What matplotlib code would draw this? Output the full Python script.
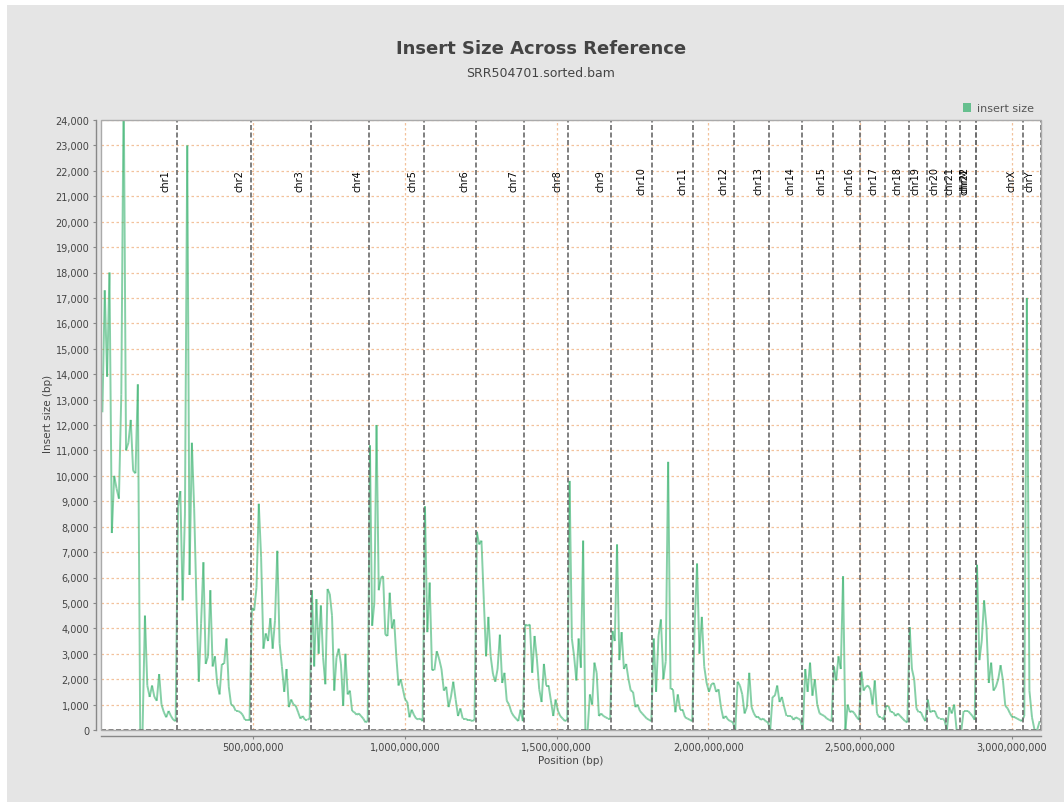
import numpy as np
import matplotlib.pyplot as plt
import matplotlib.transforms as mtransforms
from matplotlib.collections import LineCollection
from matplotlib.patches import Rectangle, Patch
from matplotlib.ticker import FuncFormatter, MultipleLocator

# reference sequences (hg19) and their lengths in bp
chrom_names = ['chr1', 'chr2', 'chr3', 'chr4', 'chr5', 'chr6', 'chr7', 'chr8', 'chr9',
               'chr10', 'chr11', 'chr12', 'chr13', 'chr14', 'chr15', 'chr16', 'chr17',
               'chr18', 'chr19', 'chr20', 'chr21', 'chr22', 'chrM', 'chrX', 'chrY']
chrom_lengths = [249250621, 243199373, 198022430, 191154276, 180915260, 171115067,
                 159138663, 146364022, 141213431, 135534747, 135006516, 133851895,
                 115169878, 107349540, 102531392, 90354753, 81195210, 78077248,
                 59128983, 63025520, 48129895, 51304566, 16571, 155270560, 59373566]

# mean insert size per window (bp)
chr1_sizes = [12500, 17300, 13900, 18000, 7750, 10000, 9500, 9100, 13200, 25500, 11000,
              11300, 12200, 10200, 10100, 13600, 0, 0, 4500, 1750, 1300, 1750, 1300,
              1150, 2200, 1000, 700, 500, 750, 550, 400, 350]
chr2_sizes = [8800, 9400, 5100, 8500, 23000, 6100, 11300, 8700, 5000, 1900, 4200, 6600,
              2600, 2900, 5500, 2500, 2900, 1800, 1400, 2600, 2600, 3600, 1700, 1000,
              950, 750, 750, 700, 600, 400, 400, 400]
chr3_sizes = [4800, 4700, 5600, 8900, 6800, 3200, 3800, 3500, 4400, 3200, 4300, 7050,
              3400, 2500, 1500, 2400, 900, 1200, 1000, 950, 700, 450, 550, 400, 400, 450]
chr4_sizes = [5500, 2500, 5150, 3000, 4900, 2850, 1800, 5550, 5350, 4500, 1550, 2850,
              3200, 2600, 950, 3000, 1400, 1550, 750, 700, 600, 650, 550, 450, 300, 350]
chr5_sizes = [11200, 4100, 5000, 12000, 5500, 6000, 6050, 3750, 3700, 5400, 4000, 4350,
              2900, 1750, 2000, 1600, 1200, 1100, 500, 800, 600, 450, 420, 450, 350]
chr6_sizes = [8800, 3850, 5800, 2350, 2350, 3100, 2800, 2400, 1550, 1700, 900, 1300,
              1900, 1200, 550, 850, 450, 450, 400, 400, 350, 400]
chr7_sizes = [7800, 7300, 7450, 5150, 2900, 4450, 2900, 2200, 1900, 2400, 3750, 1850,
              2250, 1150, 1000, 700, 550, 450, 350, 800, 350]
chr8_sizes = [4150, 4100, 4150, 2250, 3700, 2800, 1600, 1100, 2600, 1750, 1750, 1150,
              550, 1200, 750, 550, 450, 350, 400]
chr9_sizes = [9800, 3600, 2900, 1950, 3600, 2450, 7450, 0, 0, 1400, 1000, 2650, 2250,
              550, 650, 550, 500, 450, 450]
chr10_sizes = [3900, 3500, 7300, 2750, 3850, 2400, 2600, 2000, 1550, 1500, 900, 1000,
               750, 650, 550, 450, 400, 350]
chr11_sizes = [3600, 1500, 3700, 4350, 2000, 2700, 10550, 1600, 1600, 700, 1400, 800,
               800, 500, 450, 400, 350]
chr12_sizes = [4100, 6550, 3000, 4450, 2500, 1850, 1500, 1800, 1850, 1500, 1600, 900,
               450, 550, 400, 350, 300]
chr13_sizes = [0, 1900, 1750, 1400, 650, 900, 2250, 900, 650, 500, 500, 400, 450, 350, 300]
chr14_sizes = [0, 1300, 1350, 1750, 1100, 1300, 900, 550, 550, 550, 400, 500, 450, 400]
chr15_sizes = [0, 2400, 1500, 2650, 1350, 2000, 1000, 650, 600, 550, 450, 400, 350]
chr16_sizes = [2500, 1950, 2900, 2400, 6050, 0, 1000, 700, 750, 650, 500, 400]
chr17_sizes = [2300, 1550, 1700, 1750, 1600, 1000, 1950, 650, 500, 500, 400]
chr18_sizes = [950, 950, 700, 700, 550, 650, 550, 450, 350, 300]
chr19_sizes = [4050, 2400, 2000, 850, 700, 700, 500, 350]
chr20_sizes = [1200, 700, 750, 750, 500, 450, 450, 400]
chr21_sizes = [0, 900, 650, 1000, 0, 0]
chr22_sizes = [0, 750, 750, 750, 650, 550, 400]
chrM_sizes = []
chrX_sizes = [6500, 2750, 3500, 5100, 4050, 1850, 2650, 1550, 1700, 2000, 2550, 1950,
              950, 850, 650, 500, 500, 450, 400, 350]
chrY_sizes = [550, 17000, 1550, 500, 0, 0, 350]

all_sizes = [chr1_sizes, chr2_sizes, chr3_sizes, chr4_sizes, chr5_sizes, chr6_sizes,
             chr7_sizes, chr8_sizes, chr9_sizes, chr10_sizes, chr11_sizes, chr12_sizes,
             chr13_sizes, chr14_sizes, chr15_sizes, chr16_sizes, chr17_sizes,
             chr18_sizes, chr19_sizes, chr20_sizes, chr21_sizes, chr22_sizes,
             chrM_sizes, chrX_sizes, chrY_sizes]

# genome coordinates of the windows
ends = np.cumsum(chrom_lengths)
starts = ends - np.array(chrom_lengths)
xs, ys = [], []
for s, L, vals in zip(starts, chrom_lengths, all_sizes):
    n = len(vals)
    for i, v in enumerate(vals):
        xs.append(s + (i + 0.5) * L / n)
        ys.append(v)
xs = np.array(xs, dtype=float)
ys = np.array(ys, dtype=float)

text_col = '#444444'
green = '#3cb371'

fig = plt.figure(figsize=(10.64, 8.03), dpi=100)
fig.patches.append(Rectangle((7 / 1064, 0), 1, 797 / 803, transform=fig.transFigure,
                             facecolor='#e5e5e5', edgecolor='none', zorder=-10))
ax = fig.add_axes([101.2 / 1064, 72 / 803, 939.8 / 1064, 610 / 803])
ax.set_facecolor('white')

# line drawn segment by segment so overlaps get darker, like the original
pts = np.column_stack([xs, ys])
segs = np.stack([pts[:-1], pts[1:]], axis=1)
ax.add_collection(LineCollection(segs, colors=green, alpha=0.62, linewidths=1.4, zorder=3))

ax.set_xlim(0, ends[-1])
ax.set_ylim(0, 24000)

# chromosome boundaries and names
lab_trans = mtransforms.offset_copy(ax.get_xaxis_transform(), fig=fig, x=-11, y=0, units='dots')
for name, e in zip(chrom_names, ends):
    ax.axvline(e, color='#6a6a6a', lw=1.2, linestyle=(0, (3, 1.5)), zorder=4)
    ax.text(e, 0.9016, name, transform=lab_trans, rotation=90, ha='center', va='center',
            fontsize=7, color='black', zorder=5)
ax.axhline(0, color='#6a6a6a', lw=1.2, linestyle=(0, (3, 1.5)), zorder=4, clip_on=False)

# grid
ax.set_xticks(np.arange(5e8, 3.1e9, 5e8))
ax.yaxis.set_major_locator(MultipleLocator(1000))
ax.grid(True, color='#f3c29c', linestyle=(0, (2, 2)), linewidth=0.9, zorder=1)
ax.set_axisbelow(True)

ax.xaxis.set_major_formatter(FuncFormatter(lambda v, p: f'{int(v):,}'))
ax.yaxis.set_major_formatter(FuncFormatter(lambda v, p: f'{int(v):,}'))
ax.tick_params(axis='both', labelsize=7, colors='#888888', labelcolor=text_col,
               length=2.5, width=0.8, pad=2)

# plot outline plus offset axis lines
for sp in ['top', 'right']:
    ax.spines[sp].set_visible(False)
for sp in ['left', 'bottom']:
    ax.spines[sp].set_position(('outward', 4))
    ax.spines[sp].set_color('#888888')
    ax.spines[sp].set_linewidth(1.0)
ax.add_patch(Rectangle((0, 0), 1, 1, transform=ax.transAxes, fill=False,
                       edgecolor='#aaaaaa', lw=1.0, clip_on=False, zorder=6))

ax.set_xlabel('Position (bp)', fontsize=7.5, color=text_col)
ax.set_ylabel('Insert size (bp)', fontsize=7.5, color=text_col)
ax.xaxis.set_label_coords(0.5, -0.041)
ax.yaxis.set_label_coords(-0.0515, 0.52)

ax.legend(handles=[Patch(facecolor=green, alpha=0.75, label='insert size')],
          loc='lower right', bbox_to_anchor=(1.0, 1.0), frameon=False, fontsize=8,
          handlelength=0.7, handleheight=0.9, handletextpad=0.6, borderaxespad=0.5,
          borderpad=0.1, labelcolor='#555555')

fig.text(0.5085, 0.939, 'Insert Size Across Reference', ha='center', va='center',
         fontsize=13, fontweight='bold', color=text_col)
fig.text(0.5085, 0.909, 'SRR504701.sorted.bam', ha='center', va='center',
         fontsize=9, color=text_col)

fig.savefig('out.png', dpi=100, facecolor='white')
